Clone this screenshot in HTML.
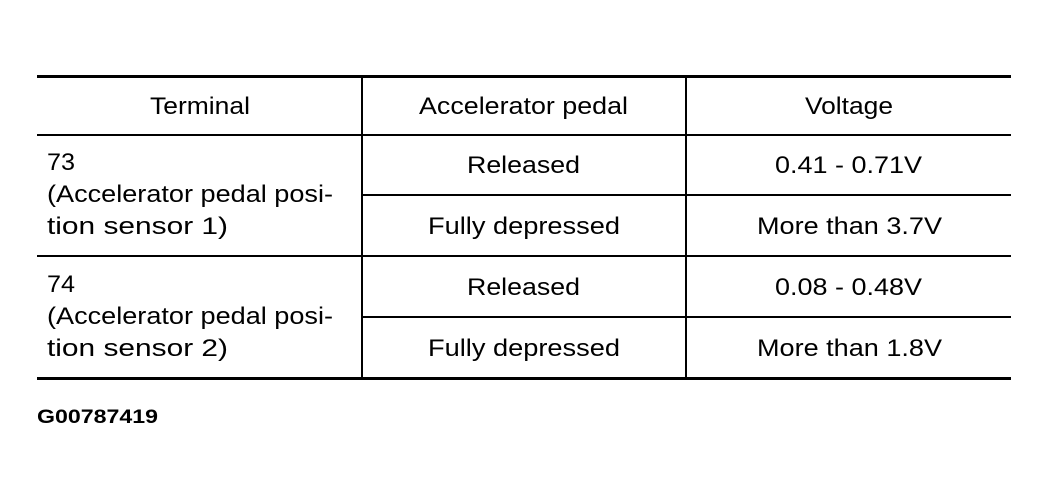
<!DOCTYPE html>
<html><head><meta charset="utf-8"><style>
html,body{margin:0;padding:0;background:#fff;}
svg{display:block;}
text{font-family:"Liberation Sans",Arial,sans-serif;font-size:24px;fill:#000;}
</style></head><body>
<svg width="1049" height="501" viewBox="0 0 1049 501">
<g stroke="#000">
<line x1="37" y1="76.5" x2="1011" y2="76.5" stroke-width="3"/>
<line x1="37" y1="135" x2="1011" y2="135" stroke-width="2"/>
<line x1="362" y1="195" x2="1011" y2="195" stroke-width="2"/>
<line x1="37" y1="256" x2="1011" y2="256" stroke-width="2"/>
<line x1="362" y1="317" x2="1011" y2="317" stroke-width="2"/>
<line x1="37" y1="378.5" x2="1011" y2="378.5" stroke-width="3"/>
<line x1="362" y1="76" x2="362" y2="379" stroke-width="2"/>
<line x1="686" y1="76" x2="686" y2="379" stroke-width="2"/>
</g>
<g lengthAdjust="spacingAndGlyphs">
<text x="150" y="114" textLength="100" lengthAdjust="spacingAndGlyphs">Terminal</text>
<text x="419" y="114" textLength="209" lengthAdjust="spacingAndGlyphs">Accelerator pedal</text>
<text x="805" y="114" textLength="88" lengthAdjust="spacingAndGlyphs">Voltage</text>
<text x="47" y="170" textLength="28" lengthAdjust="spacingAndGlyphs">73</text>
<text x="47" y="202" textLength="286" lengthAdjust="spacingAndGlyphs">(Accelerator pedal posi-</text>
<text x="47" y="234" textLength="181" lengthAdjust="spacingAndGlyphs">tion sensor 1)</text>
<text x="47" y="292" textLength="28" lengthAdjust="spacingAndGlyphs">74</text>
<text x="47" y="324" textLength="286" lengthAdjust="spacingAndGlyphs">(Accelerator pedal posi-</text>
<text x="47" y="356" textLength="181" lengthAdjust="spacingAndGlyphs">tion sensor 2)</text>
<text x="467" y="173" textLength="113" lengthAdjust="spacingAndGlyphs">Released</text>
<text x="428" y="234" textLength="192" lengthAdjust="spacingAndGlyphs">Fully depressed</text>
<text x="467" y="295" textLength="113" lengthAdjust="spacingAndGlyphs">Released</text>
<text x="428" y="356" textLength="192" lengthAdjust="spacingAndGlyphs">Fully depressed</text>
<text x="775" y="173" textLength="147" lengthAdjust="spacingAndGlyphs">0.41 - 0.71V</text>
<text x="757" y="234" textLength="185" lengthAdjust="spacingAndGlyphs">More than 3.7V</text>
<text x="775" y="295" textLength="147" lengthAdjust="spacingAndGlyphs">0.08 - 0.48V</text>
<text x="757" y="356" textLength="185" lengthAdjust="spacingAndGlyphs">More than 1.8V</text>
<text x="37" y="423" textLength="121" lengthAdjust="spacingAndGlyphs" style="font-size:19px;font-weight:bold">G00787419</text>
</g>
</svg>
</body></html>
